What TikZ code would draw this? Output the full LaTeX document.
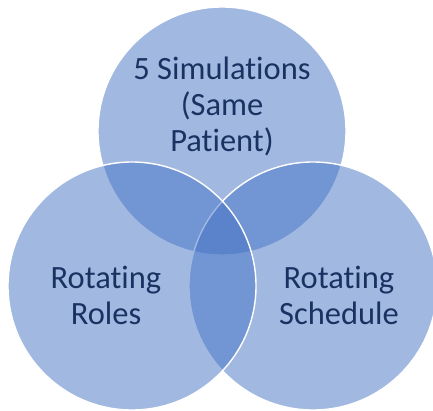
\documentclass[tikz,border=0pt]{standalone}
\usepackage{fontspec}
\setmainfont{Carlito}[Ligatures=CommonOff]
\definecolor{circfill}{HTML}{4472C4}
\definecolor{textnavy}{HTML}{1A3262}
\begin{document}
\begin{tikzpicture}[x=1pt,y=-1pt,
  venn/.style={fill=circfill,fill opacity=0.5,draw=white,draw opacity=1,line width=1.4pt},
  lbl/.style={text=textnavy,align=center,inner sep=0pt,font=\fontsize{32.5}{36}\selectfont}]
\useasboundingbox (0,0) rectangle (433,410);
\clip (0,0) rectangle (433,410);
\path[venn] (222,131) circle[radius=124];
\path[venn] (313,286) circle[radius=124];
\path[venn] (132,286) circle[radius=124];
\node[lbl] (top) at (222,106) {5 Simulations\\(Same\\Patient)};
\node[lbl] (left) at (106,295) {Rotating\\Roles};
\node[lbl] (right) at (339,295) {Rotating\\Schedule};
\end{tikzpicture}
\end{document}
